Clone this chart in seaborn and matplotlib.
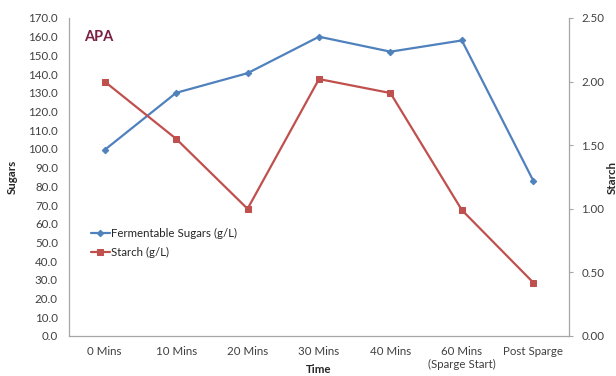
import matplotlib
matplotlib.use("Agg")
import matplotlib.pyplot as plt
import seaborn as sns
import pandas as pd

times = ["0 Mins", "10 Mins", "20 Mins", "30 Mins", "40 Mins",
         "60 Mins\n(Sparge Start)", "Post Sparge"]
sugars = [99.5, 130.0, 140.5, 160.0, 152.0, 158.0, 83.0]
starch = [2.00, 1.55, 1.00, 2.02, 1.91, 0.99, 0.42]

sugar_ticks = [i * 10 for i in range(18)]
starch_ticks = [0.0, 0.5, 1.0, 1.5, 2.0, 2.5]

sns.set_theme(style="white")
plt.rcParams["font.family"] = ["Lato", "DejaVu Sans"]

df = pd.DataFrame({"Time": times, "Sugars": sugars, "Starch": starch})

fig = plt.figure(figsize=(6.16, 3.76), dpi=100)
ax = fig.add_axes([69 / 616, 40 / 376, 500 / 616, 318 / 376])
ax2 = ax.twinx()

blue = "#4F81BD"
red = "#C0504D"
grey = "#A6A6A6"
fs = 8.3

sns.lineplot(data=df, x="Time", y="Sugars", ax=ax, color=blue, marker="D",
             markersize=3.3, markeredgecolor=blue, linewidth=1.6, sort=False,
             label="Fermentable Sugars (g/L)", legend=False)
sns.lineplot(data=df, x="Time", y="Starch", ax=ax2, color=red, marker="s",
             markersize=5, markeredgecolor=red, linewidth=1.6, sort=False,
             label="Starch (g/L)", legend=False)

ax.set_xlim(-0.5, len(times) - 0.5)
ax.set_ylim(0, 170)
ax.set_yticks(sugar_ticks)
ax.set_yticklabels([f"{v:.1f}" for v in sugar_ticks])
ax2.set_ylim(0, 2.5)
ax2.set_yticks(starch_ticks)
ax2.set_yticklabels([f"{v:.2f}" for v in starch_ticks])

for a in (ax, ax2):
    for s in a.spines.values():
        s.set_color(grey)
        s.set_linewidth(0.9)
    a.spines["top"].set_visible(False)
ax.spines["right"].set_visible(False)
ax2.spines["left"].set_visible(False)
ax2.spines["bottom"].set_visible(False)

ax.tick_params(axis="y", length=0, pad=8, labelsize=fs, colors="#404040")
ax.tick_params(axis="x", length=0, pad=7, labelsize=fs, colors="#404040")
ax2.tick_params(axis="y", length=3, width=0.8, color=grey, pad=6,
                labelsize=fs, labelcolor="#404040", right=True)

ax.set_xlabel("Time", fontsize=fs, fontweight="bold", color="#262626")
ax.xaxis.set_label_coords(0.5, -0.088)
ax.set_ylabel("Sugars", fontsize=fs, fontweight="bold", color="#262626")
ax.yaxis.set_label_coords(-0.103, 0.5)
ax2.set_ylabel("Starch", fontsize=fs, fontweight="bold", color="#262626")
ax2.yaxis.set_label_coords(1.075, 0.5)

ax.text(0.03, 0.94, "APA", transform=ax.transAxes, fontsize=10.5,
        fontweight="bold", color="#7B2042", va="center", ha="left")

h1 = ax.get_lines()[0]
h2 = ax2.get_lines()[0]
ax.legend([h1, h2], ["Fermentable Sugars (g/L)", "Starch (g/L)"],
          loc="upper left", bbox_to_anchor=(0.035, 0.355), frameon=False,
          fontsize=fs, handlelength=1.6, handletextpad=0.1,
          labelspacing=0.75, borderaxespad=0)

fig.savefig("out.png", dpi=100)
